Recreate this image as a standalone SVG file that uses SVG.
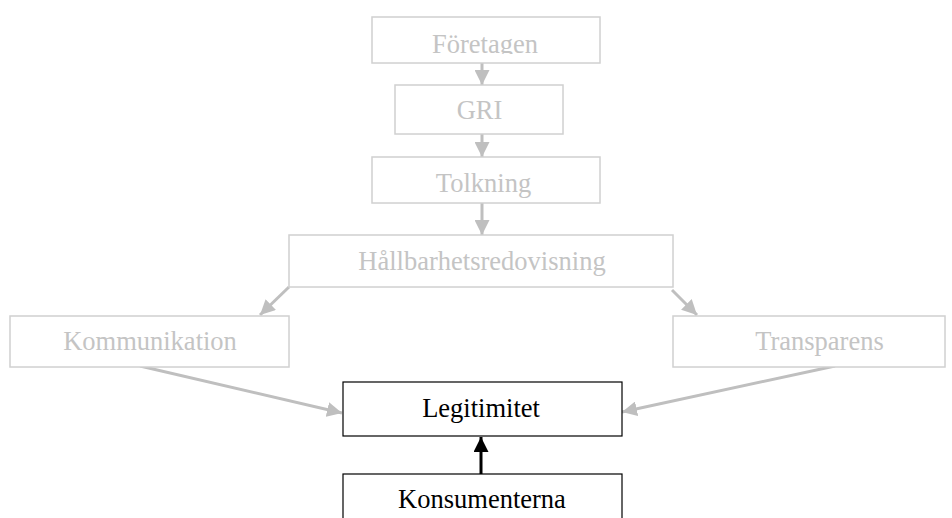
<svg xmlns="http://www.w3.org/2000/svg" width="952" height="518" viewBox="0 0 952 518">
<style>
.g rect{fill:#fff;stroke:#d0d0d0;stroke-width:1.5}
.g text{fill:#c4c4c4}
.k rect{fill:#fff;stroke:#000;stroke-width:1.2}
.k text{fill:#000}
text{font-family:"Liberation Serif","Times New Roman",serif;font-size:26.5px;text-anchor:middle}
.ga{stroke:#bfbfbf;stroke-width:3;fill:none}
.ka{stroke:#000;stroke-width:3;fill:none}
</style>
<defs>
<marker id="mg" viewBox="0 0 10 10" refX="10" refY="5" markerWidth="5" markerHeight="5" orient="auto" markerUnits="strokeWidth"><path d="M0,0L10,5L0,10z" fill="#bfbfbf"/></marker>
<marker id="mk" viewBox="0 0 10 10" refX="10" refY="5" markerWidth="5" markerHeight="5" orient="auto" markerUnits="strokeWidth"><path d="M0,0L10,5L0,10z" fill="#000"/></marker>
<clipPath id="c1"><rect x="372" y="17" width="228" height="37"/></clipPath>
</defs>
<g id="connectors">
<line class="ga" x1="482" y1="63" x2="482" y2="85" marker-end="url(#mg)"/>
<line class="ga" x1="482" y1="134" x2="482" y2="157" marker-end="url(#mg)"/>
<line class="ga" x1="482" y1="203" x2="482" y2="235" marker-end="url(#mg)"/>
<line class="ga" x1="289" y1="287" x2="260" y2="315" marker-end="url(#mg)"/>
<line class="ga" x1="672" y1="290" x2="697" y2="315" marker-end="url(#mg)"/>
<line class="ga" x1="140" y1="366" x2="342" y2="413" marker-end="url(#mg)"/>
<line class="ga" x1="835" y1="366" x2="622" y2="412" marker-end="url(#mg)"/>
<line class="ka" x1="481" y1="474" x2="481" y2="437" marker-end="url(#mk)"/>
</g>
<g id="foretagen" class="g"><rect x="372" y="17" width="228" height="46"/><text x="485" y="53" clip-path="url(#c1)">Företagen</text></g>
<g id="gri" class="g"><rect x="395" y="85" width="168" height="49"/><text x="479.5" y="119">GRI</text></g>
<g id="tolkning" class="g"><rect x="372" y="157" width="228" height="46"/><text x="483.5" y="192">Tolkning</text></g>
<g id="hallbarhet" class="g"><rect x="289" y="235" width="384" height="52"/><text x="482" y="270">Hållbarhetsredovisning</text></g>
<g id="kommunikation" class="g"><rect x="10" y="316" width="279" height="51"/><text x="150" y="350">Kommunikation</text></g>
<g id="transparens" class="g"><rect x="673" y="316" width="272" height="51"/><text x="819.5" y="350">Transparens</text></g>
<g id="legitimitet" class="k"><rect x="343" y="382" width="279" height="54"/><text x="481" y="417">Legitimitet</text></g>
<g id="konsumenterna" class="k"><rect x="343" y="474" width="279" height="60"/><text x="482" y="508">Konsumenterna</text></g>
</svg>
